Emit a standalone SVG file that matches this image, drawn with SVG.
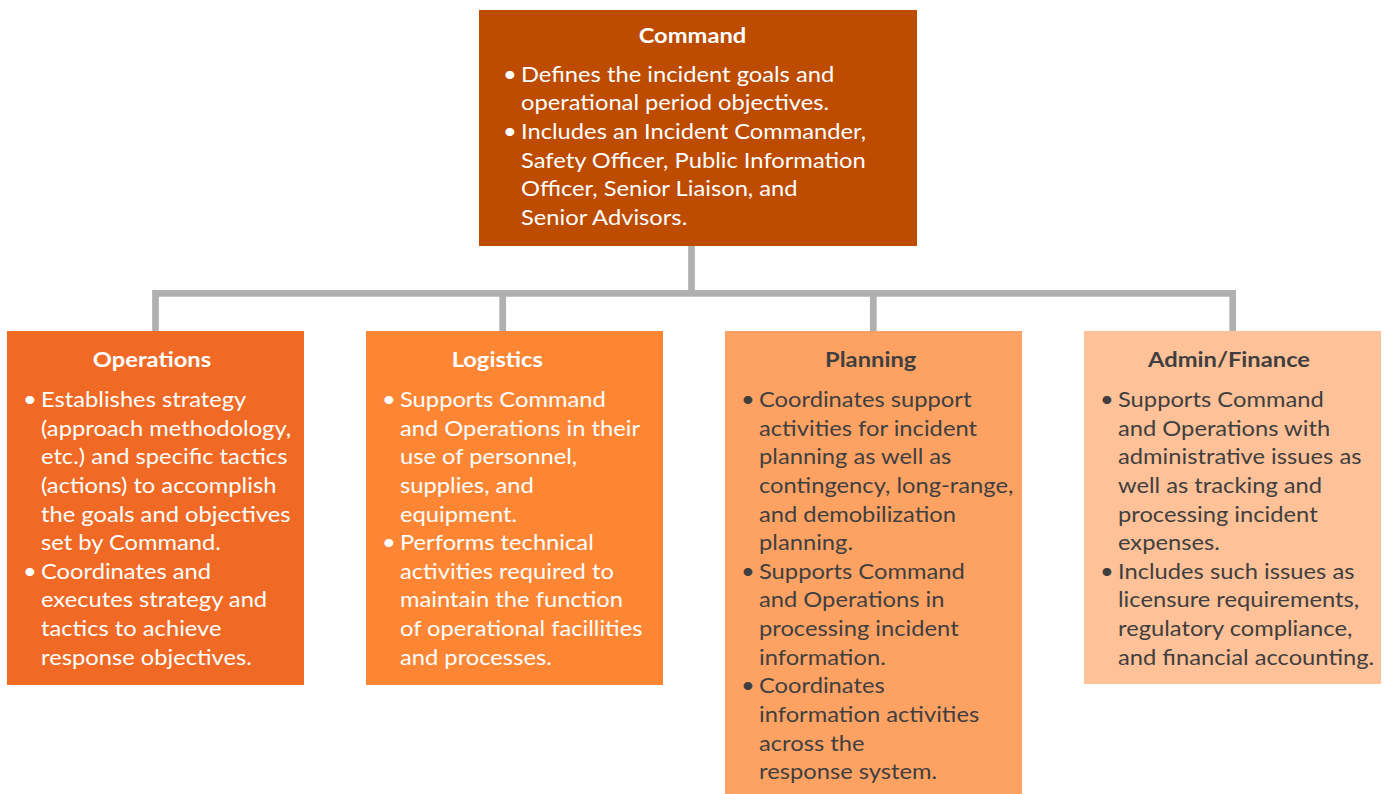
<svg xmlns="http://www.w3.org/2000/svg" width="1388" height="794" viewBox="0 0 1388 794">
<style>
.t{font-family:Lato,"Open Sans","Liberation Sans",sans-serif;font-size:21px;font-weight:700;text-anchor:middle}
.b{font-family:Lato,"Open Sans","Liberation Sans",sans-serif;font-size:21px}
.w{fill:#ffffff}
.d{fill:#3f3f3f}
.c{fill:none;stroke:#b0b0b0;stroke-width:6.7}
</style>
<rect width="1388" height="794" fill="#ffffff"/>
<g id="connectors">
<path class="c" d="M691.5 246V293.3M155.5 293.3H1232.7M155.5 290V331M502.7 293.3V331M873.3 293.3V331M1232.7 290V331"/>
</g>
<g id="command">
<rect x="479" y="10" width="438" height="236" fill="#bd4b00"/>
<text class="t w" x="692.5" y="43.3" transform="matrix(1.13 0 0 1 -90.03 0)">Command</text>
<text class="b w" transform="matrix(1.13 0 0 1 -67.73 0)"><tspan x="505" y="81.7">•</tspan><tspan x="521" y="81.7">Defines the incident goals and</tspan><tspan x="521" y="110.3">operational period objectives.</tspan><tspan x="505" y="139">•</tspan><tspan x="521" y="139">Includes an Incident Commander,</tspan><tspan x="521" y="167.6">Safety Officer, Public Information</tspan><tspan x="521" y="196.2">Officer, Senior Liaison, and</tspan><tspan x="521" y="224.8">Senior Advisors.</tspan></text>
</g>
<g id="operations">
<rect x="7" y="331" width="297" height="354" fill="#f06a25"/>
<text class="t w" x="152" y="366.7" transform="matrix(1.13 0 0 1 -19.76 0)">Operations</text>
<text class="b w" transform="matrix(1.13 0 0 1 -5.33 0)"><tspan x="25" y="407">•</tspan><tspan x="41" y="407">Establishes strategy</tspan><tspan x="41" y="435.6">(approach methodology,</tspan><tspan x="41" y="464.3">etc.) and specific tactics</tspan><tspan x="41" y="492.9">(actions) to accomplish</tspan><tspan x="41" y="521.6">the goals and objectives</tspan><tspan x="41" y="550.2">set by Command.</tspan><tspan x="25" y="578.9">•</tspan><tspan x="41" y="578.9">Coordinates and</tspan><tspan x="41" y="607.5">executes strategy and</tspan><tspan x="41" y="636.2">tactics to achieve</tspan><tspan x="41" y="664.8">response objectives.</tspan></text>
</g>
<g id="logistics">
<rect x="366" y="331" width="297" height="354" fill="#fd8635"/>
<text class="t w" x="497.3" y="366.7" transform="matrix(1.13 0 0 1 -64.65 0)">Logistics</text>
<text class="b w" transform="matrix(1.13 0 0 1 -52 0)"><tspan x="384" y="407">•</tspan><tspan x="400" y="407">Supports Command</tspan><tspan x="400" y="435.6">and Operations in their</tspan><tspan x="400" y="464.3">use of personnel,</tspan><tspan x="400" y="492.9">supplies, and</tspan><tspan x="400" y="521.6">equipment.</tspan><tspan x="384" y="550.2">•</tspan><tspan x="400" y="550.2">Performs technical</tspan><tspan x="400" y="578.9">activities required to</tspan><tspan x="400" y="607.5">maintain the function</tspan><tspan x="400" y="636.2">of operational facillities</tspan><tspan x="400" y="664.8">and processes.</tspan></text>
</g>
<g id="planning">
<rect x="725" y="331" width="297" height="463" fill="#fea264"/>
<text class="t d" x="870.7" y="366.7" transform="matrix(1.13 0 0 1 -113.19 0)">Planning</text>
<text class="b d" transform="matrix(1.13 0 0 1 -98.67 0)"><tspan x="743" y="407">•</tspan><tspan x="759" y="407">Coordinates support</tspan><tspan x="759" y="435.6">activities for incident</tspan><tspan x="759" y="464.3">planning as well as</tspan><tspan x="759" y="492.9">contingency, long-range,</tspan><tspan x="759" y="521.6">and demobilization</tspan><tspan x="759" y="550.2">planning.</tspan><tspan x="743" y="578.9">•</tspan><tspan x="759" y="578.9">Supports Command</tspan><tspan x="759" y="607.5">and Operations in</tspan><tspan x="759" y="636.2">processing incident</tspan><tspan x="759" y="664.8">information.</tspan><tspan x="743" y="693.5">•</tspan><tspan x="759" y="693.5">Coordinates</tspan><tspan x="759" y="722.1">information activities</tspan><tspan x="759" y="750.8">across the</tspan><tspan x="759" y="779.4">response system.</tspan></text>
</g>
<g id="admin-finance">
<rect x="1084" y="331" width="297" height="353" fill="#ffc197"/>
<text class="t d" x="1229" y="366.7" transform="matrix(1.13 0 0 1 -159.77 0)">Admin/Finance</text>
<text class="b d" transform="matrix(1.13 0 0 1 -145.34 0)"><tspan x="1102" y="407">•</tspan><tspan x="1118" y="407">Supports Command</tspan><tspan x="1118" y="435.6">and Operations with</tspan><tspan x="1118" y="464.3">administrative issues as</tspan><tspan x="1118" y="492.9">well as tracking and</tspan><tspan x="1118" y="521.6">processing incident</tspan><tspan x="1118" y="550.2">expenses.</tspan><tspan x="1102" y="578.9">•</tspan><tspan x="1118" y="578.9">Includes such issues as</tspan><tspan x="1118" y="607.5">licensure requirements,</tspan><tspan x="1118" y="636.2">regulatory compliance,</tspan><tspan x="1118" y="664.8">and financial accounting.</tspan></text>
</g>
</svg>
